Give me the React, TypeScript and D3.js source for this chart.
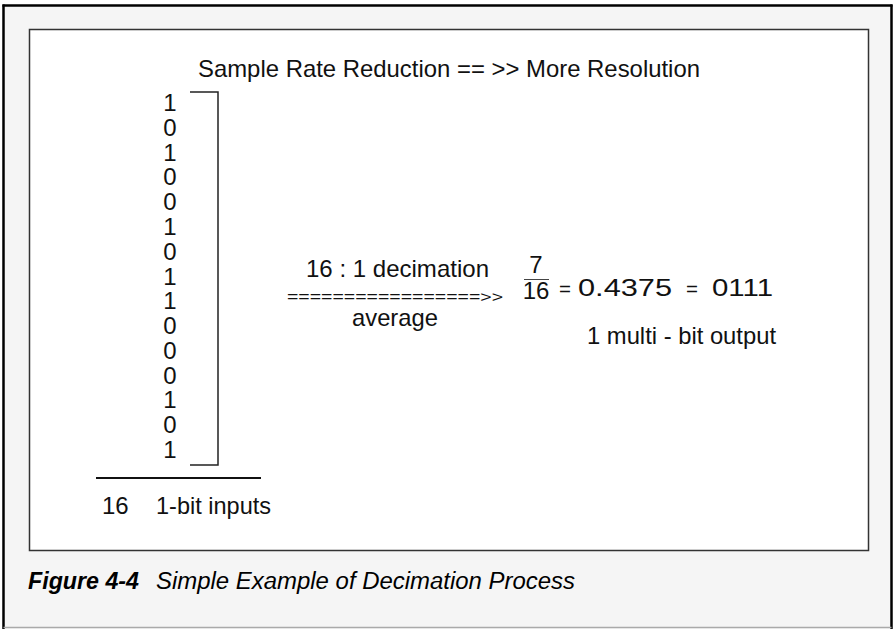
import React from 'react';
import * as d3 from 'd3';

// diagram content
const bits = [1, 0, 1, 0, 0, 1, 0, 1, 1, 0, 0, 0, 1, 0, 1];
const titleText = 'Sample Rate Reduction == >> More Resolution';
const opLabels = ['16 : 1 decimation', '=================>>', 'average'];
const fraction = ['7', '16'];
const resultParts = ['=', '0.4375', '=', '0111'];
const outputLabel = '1 multi - bit output';
const inputLabels = ['16', '1-bit inputs'];
const captionBold = 'Figure 4-4';
const captionText = 'Simple Example of Decimation Process';

const W = 893;
const H = 629;
const FONT = '"Liberation Sans", Arial, Helvetica, sans-serif';

export default function App() {
  // one row per input bit
  const rowY = d3.scalePoint<number>()
    .domain(d3.range(bits.length))
    .range([111, 458]);

  const bracketTop = 92;
  const bracketBottom = (rowY(bits.length - 1) as number) + 7;

  // x positions of the "= 0.4375 = 0111" pieces
  const resultX = d3.scaleOrdinal<string, number>()
    .domain(d3.range(resultParts.length).map(String))
    .range([559, 578, 686, 712]);
  const resultLen = [12, 94, 12, 61];
  const resultSize = [20, 24, 20, 24];

  return (
    <div style={{ position: 'absolute', left: 0, top: 0, width: W, height: H }}>
      <svg width={W} height={H} style={{ display: 'block', fontFamily: FONT }}>
        {/* outer frame */}
        <rect x={3.5} y={5.5} width={888} height={623} fill="#f5f5f5" />
        <line x1={3.5} y1={4.5} x2={3.5} y2={H} stroke="#000" strokeWidth={2.5} />
        <line x1={2.5} y1={5.5} x2={892.5} y2={5.5} stroke="#000" strokeWidth={2.5} />
        <line x1={891.5} y1={4.5} x2={891.5} y2={H} stroke="#000" strokeWidth={2.5} />
        <line x1={3.5} y1={627.5} x2={891.5} y2={627.5} stroke="#aaa" strokeWidth={1.5} />

        {/* inner box */}
        <rect x={29.5} y={29.5} width={839} height={521} fill="#fff" stroke="#333" strokeWidth={1.5} />

        <text x={198} y={77} fontSize={24} textLength={502} lengthAdjust="spacingAndGlyphs" fill="#111">
          {titleText}
        </text>

        {/* input bits */}
        {bits.map((b, i) => (
          <text key={i} x={170} y={rowY(i)} fontSize={24} textAnchor="middle" fill="#111">
            {b}
          </text>
        ))}
        <path
          d={`M190,${bracketTop}H218V${bracketBottom}H190`}
          fill="none"
          stroke="#222"
          strokeWidth={1.5}
        />
        <line x1={96} y1={478} x2={261} y2={478} stroke="#111" strokeWidth={2} />
        <text x={102} y={514} fontSize={24} fill="#111">
          {inputLabels[0]}
        </text>
        <text x={156} y={514} fontSize={24} textLength={115} lengthAdjust="spacingAndGlyphs" fill="#111">
          {inputLabels[1]}
        </text>

        {/* decimation operation */}
        <text x={306} y={277} fontSize={24} textLength={183} lengthAdjust="spacingAndGlyphs" fill="#111">
          {opLabels[0]}
        </text>
        <text x={287} y={302} fontSize={15} textLength={216} lengthAdjust="spacingAndGlyphs" fill="#111">
          {opLabels[1]}
        </text>
        <text x={352} y={326} fontSize={24} textLength={86} lengthAdjust="spacingAndGlyphs" fill="#111">
          {opLabels[2]}
        </text>

        {/* result */}
        <text x={536} y={273} fontSize={24} textAnchor="middle" fill="#111">{fraction[0]}</text>
        <line x1={524} y1={279.5} x2={549} y2={279.5} stroke="#444" strokeWidth={1} />
        <text x={536} y={299} fontSize={24} textAnchor="middle" fill="#111">{fraction[1]}</text>
        {resultParts.map((p, i) => (
          <text
            key={i}
            x={resultX(String(i))}
            y={296}
            fontSize={resultSize[i]}
            textLength={resultLen[i]}
            lengthAdjust="spacingAndGlyphs"
            fill="#111"
          >
            {p}
          </text>
        ))}
        <text x={587} y={344} fontSize={24} textLength={189} lengthAdjust="spacingAndGlyphs" fill="#111">
          {outputLabel}
        </text>

        {/* caption */}
        <text x={28} y={589} fontSize={23} fontWeight="bold" fontStyle="italic" textLength={111} lengthAdjust="spacingAndGlyphs" fill="#000">
          {captionBold}
        </text>
        <text x={156} y={589} fontSize={23} fontStyle="italic" textLength={419} lengthAdjust="spacingAndGlyphs" fill="#000">
          {captionText}
        </text>
      </svg>
    </div>
  );
}
